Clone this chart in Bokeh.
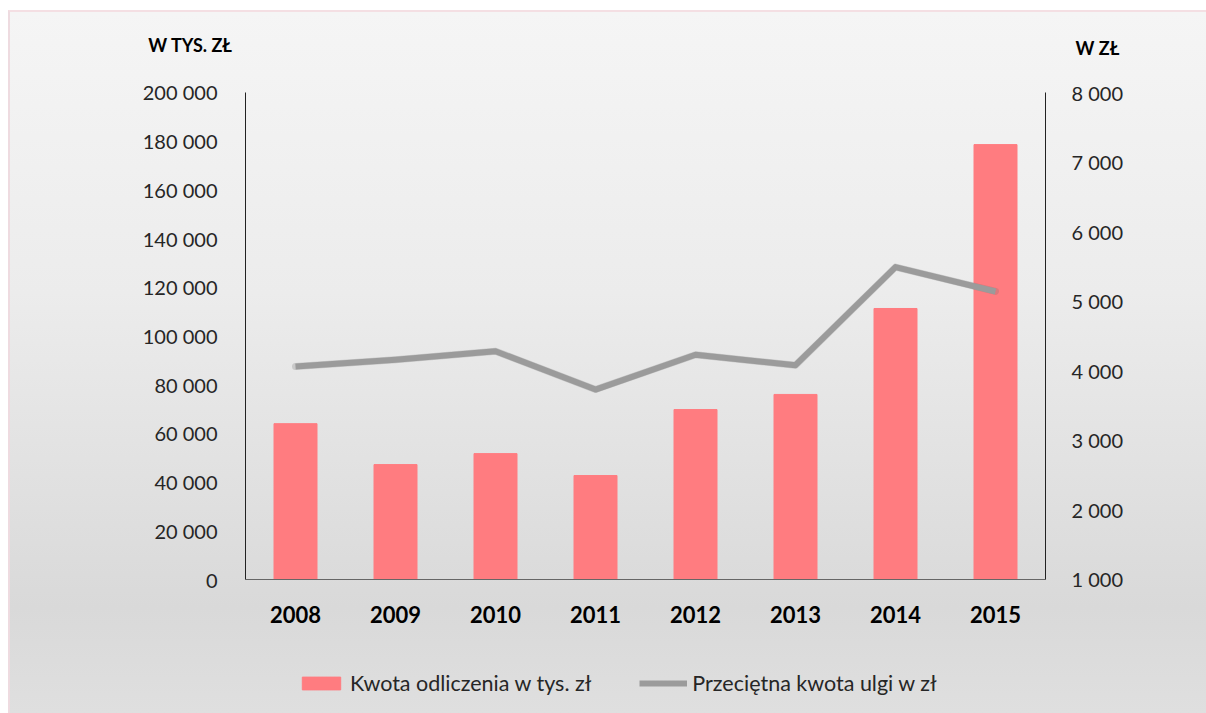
from bokeh.plotting import figure
from bokeh.models import (Range1d, LinearAxis, FixedTicker, Label, Legend, LegendItem,
                          InlineStyleSheet)
from bokeh.embed import file_html
from bokeh.resources import INLINE

years = ["2008", "2009", "2010", "2011", "2012", "2013", "2014", "2015"]
kwota_tys = [64000, 47200, 51700, 42700, 69800, 76000, 111300, 178600]
przecietna = [4060, 4160, 4280, 3730, 4230, 4080, 5490, 5140]

left_ticks = [0, 20000, 40000, 60000, 80000, 100000, 120000, 140000, 160000, 180000, 200000]
left_labels = ["0", "20 000", "40 000", "60 000", "80 000", "100 000", "120 000",
               "140 000", "160 000", "180 000", "200 000"]
right_ticks = [1000, 2000, 3000, 4000, 5000, 6000, 7000, 8000]
right_labels = ["1 000", "2 000", "3 000", "4 000", "5 000", "6 000", "7 000", "8 000"]

FONT = "Lato"
xpos = list(range(len(years)))

p = figure(width=1198, height=703,
           x_range=Range1d(-2.85, 9.13),
           y_range=Range1d(-55852, 232854),
           output_backend="svg", toolbar_location=None,
           min_border=0)
p.margin = (10, 0, 0, 8)
p.background_fill_alpha = 0
p.border_fill_alpha = 0
p.outline_line_color = None
p.stylesheets = [InlineStyleSheet(css=":host { background: linear-gradient(to bottom, #f5f5f5 0%, #ececec 40%, #d9d9d9 85%, #dfdfdf 100%); border-top: 2px solid #f4dfe3; border-left: 2px solid #eedbe0; box-sizing: border-box; }")]
p.xgrid.grid_line_color = None
p.ygrid.grid_line_color = None

p.extra_y_ranges = {"zl": Range1d(-955, 9150)}

bars = p.vbar(x=xpos, top=kwota_tys, width=0.43, color="#ff7c80")
p.line(x=xpos, y=przecietna, y_range_name="zl", line_color="#6f6f6f", line_width=7,
       line_alpha=0.25, line_join="round", line_cap="round")
line = p.line(x=xpos, y=przecietna, y_range_name="zl", line_color="#9b9b9b", line_width=6,
              line_join="round")

# left axis
ya = p.yaxis[0]
ya.ticker = FixedTicker(ticks=left_ticks)
ya.major_label_overrides = {t: l for t, l in zip(left_ticks, left_labels)}
ya.fixed_location = -0.5
ya.bounds = (0, 200000)
ya.major_tick_line_color = None
ya.minor_tick_line_color = None
ya.axis_line_color = "#222222"
ya.major_label_standoff = 22
ya.major_label_text_font = FONT
ya.major_label_text_font_size = "20px"
ya.major_label_text_color = "#262626"

ra = LinearAxis(y_range_name="zl", ticker=FixedTicker(ticks=right_ticks))
ra.major_label_overrides = {t: l for t, l in zip(right_ticks, right_labels)}
ra.fixed_location = 7.5
ra.bounds = (1000, 8000)
ra.major_tick_line_color = None
ra.minor_tick_line_color = None
ra.axis_line_color = "#222222"
ra.major_label_standoff = 20
ra.major_label_text_font = FONT
ra.major_label_text_font_size = "20px"
ra.major_label_text_color = "#262626"
p.add_layout(ra, "right")

xa = p.xaxis[0]
xa.ticker = FixedTicker(ticks=xpos)
xa.major_label_overrides = {i: y for i, y in zip(xpos, years)}
xa.fixed_location = 0
xa.bounds = (-0.5, 7.5)
xa.major_tick_line_color = None
xa.minor_tick_line_color = None
xa.axis_line_color = "#666666"
xa.major_label_standoff = 20
xa.major_label_text_font = FONT
xa.major_label_text_font_style = "bold"
xa.major_label_text_font_size = "22px"
xa.major_label_text_color = "#000000"

p.add_layout(Label(x=180, y=671, x_units="screen", y_units="screen", text="W TYS. ZŁ",
                   text_font=FONT, text_font_style="bold", text_font_size="18px",
                   text_align="center", text_baseline="middle", text_color="#000000"))
p.add_layout(Label(x=1087, y=668, x_units="screen", y_units="screen", text="W ZŁ",
                   text_font=FONT, text_font_style="bold", text_font_size="18px",
                   text_align="center", text_baseline="middle", text_color="#000000"))

legend = Legend(items=[LegendItem(label="Kwota odliczenia w tys. zł", renderers=[bars]),
                       LegendItem(label="Przeciętna kwota ulgi w zł", renderers=[line])],
                orientation="horizontal", location=(287, 19),
                glyph_width=48, glyph_height=16, label_standoff=5, spacing=48,
                padding=0, margin=0, background_fill_alpha=0, border_line_color=None,
                label_text_font=FONT, label_text_font_size="21.5px", label_text_color="#262626")
p.add_layout(legend, "center")

open("out.html", "w").write(file_html(p, INLINE))
